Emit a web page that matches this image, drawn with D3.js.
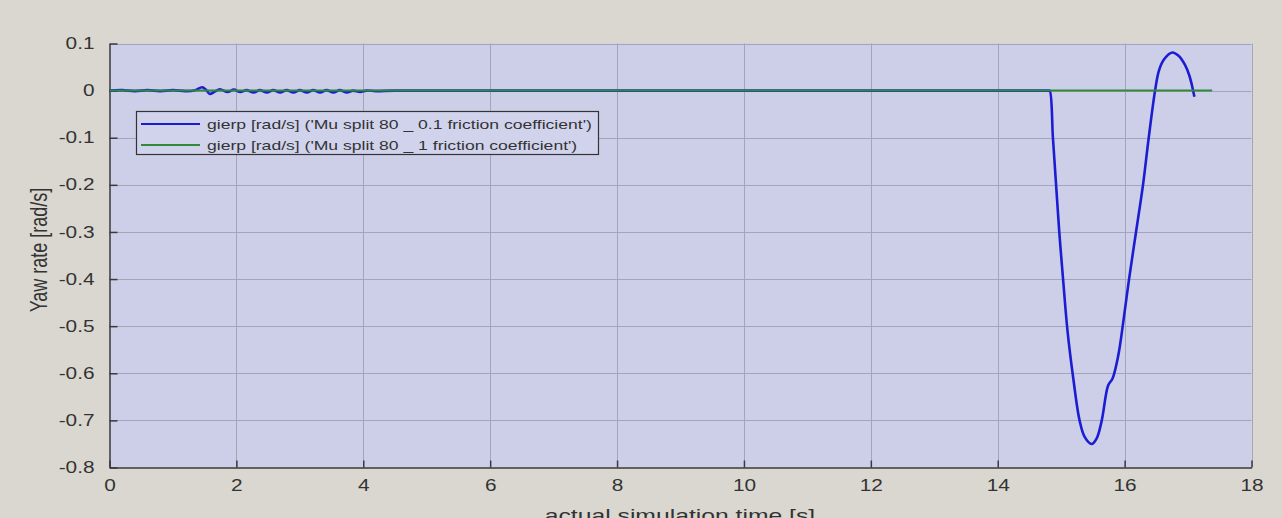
<!DOCTYPE html>
<html>
<head>
<meta charset="utf-8">
<script src="https://cdn.jsdelivr.net/npm/d3@7"></script>
<style>
  html, body { margin: 0; padding: 0; background: #dad7d0; }
  svg { display: block; }
  text { font-family: "Liberation Sans", Arial, sans-serif; fill: #333; }
</style>
</head>
<body>
<svg id="chart" width="1282" height="518"></svg>
<script>
// Yaw rate over simulation time, two friction cases
const xTicks = [0, 2, 4, 6, 8, 10, 12, 14, 16, 18];
const yTicks = [0.1, 0, -0.1, -0.2, -0.3, -0.4, -0.5, -0.6, -0.7, -0.8];
const yTickLabels = ["0.1", "0", "-0.1", "-0.2", "-0.3", "-0.4", "-0.5", "-0.6", "-0.7", "-0.8"];

// low friction (0.1) run: time [s]
const lowMuTime = [
  0, 0.2, 0.4, 0.6, 0.8, 1.0, 1.2, 1.35, 1.46, 1.52, 1.58, 1.66, 1.74, 1.86, 1.96,
  2.06, 2.16, 2.27, 2.37, 2.48, 2.58, 2.69, 2.79, 2.9, 3.0, 3.11, 3.21, 3.32, 3.42,
  3.53, 3.63, 3.74, 3.84, 3.95, 4.05, 4.2, 4.5, 6, 8, 10, 12, 14, 14.8,
  14.82, 14.87, 14.92, 14.97, 15.03, 15.1, 15.19, 15.29, 15.37, 15.48, 15.56, 15.64,
  15.74, 15.81, 15.9, 15.97, 16.07, 16.18, 16.29, 16.38, 16.48, 16.54, 16.62, 16.75,
  16.85, 16.95, 17.02, 17.06, 17.1
];
// low friction (0.1) run: yaw rate [rad/s]
const lowMuYaw = [
  0, 0.001, -0.001, 0.001, -0.001, 0.001, -0.001, 0.001, 0.007, 0.002, -0.007, -0.002, 0.003, -0.003, 0.002,
  -0.003, 0.001, -0.004, 0.001, -0.004, 0.001, -0.004, 0.001, -0.004, 0.001, -0.004, 0.001, -0.004, 0.001,
  -0.004, 0.001, -0.004, 0.0, -0.003, 0.0, -0.001, 0, 0, 0, 0, 0, 0, 0,
  0, -0.1, -0.2, -0.3, -0.4, -0.51, -0.61, -0.7, -0.735, -0.75, -0.738, -0.70,
  -0.626, -0.611, -0.562, -0.5, -0.4, -0.3, -0.2, -0.1, 0, 0.042, 0.066, 0.081,
  0.074, 0.055, 0.032, 0.012, -0.013
];

// high friction (1) run
const highMuTime = [0, 4, 8, 12, 16, 17.38];
const highMuYaw = [0, 0, 0, 0, 0, 0];

const seriesNames = [
  "gierp [rad/s] ('Mu split 80 _ 0.1 friction coefficient')",
  "gierp [rad/s] ('Mu split 80 _ 1 friction coefficient')"
];
const seriesColors = ["#1c1cd2", "#2f8a3c"];
const xLabel = "actual simulation time [s]";
const yLabel = "Yaw rate [rad/s]";

const svg = d3.select("#chart");
const plot = { left: 109.5, right: 1251.5, top: 43.5, bottom: 467.5 };
const stretch = 1.3; // horizontal widening of all text

const x = d3.scaleLinear().domain([0, 18]).range([plot.left, plot.right]);
const y = d3.scaleLinear().domain([-0.8, 0.1]).range([plot.bottom, plot.top]);

// plot background
svg.append("rect")
  .attr("x", plot.left).attr("y", plot.top)
  .attr("width", plot.right - plot.left).attr("height", plot.bottom - plot.top)
  .attr("fill", "#cdcfe9");

// grid
const grid = svg.append("g").attr("stroke", "#a3a5bd").attr("stroke-width", 1);
grid.selectAll("line.gx").data(xTicks.slice(1)).join("line")
  .attr("x1", d => Math.round(x(d)) + 0.5).attr("x2", d => Math.round(x(d)) + 0.5)
  .attr("y1", plot.top).attr("y2", plot.bottom);
grid.selectAll("line.gy").data(yTicks.slice(0, -1)).join("line")
  .attr("y1", d => Math.round(y(d)) + 0.5).attr("y2", d => Math.round(y(d)) + 0.5)
  .attr("x1", plot.left).attr("x2", plot.right);

// axes
const xAxis = d3.axisBottom(x).tickValues(xTicks).tickSizeInner(-7).tickSizeOuter(0).tickPadding(12);
const yAxis = d3.axisLeft(y).tickValues(yTicks).tickSizeInner(-8).tickSizeOuter(0).tickPadding(15)
  .tickFormat((d, i) => yTickLabels[i]);

const gx = svg.append("g").attr("transform", `translate(0,${plot.bottom})`).call(xAxis);
const gy = svg.append("g").attr("transform", `translate(${plot.left},0)`).call(yAxis);
[gx, gy].forEach(g => {
  g.select(".domain").attr("stroke", "#3a3a3a").attr("stroke-width", 1.5);
  g.selectAll(".tick line").attr("stroke", "#3a3a3a").attr("stroke-width", 1.5);
  g.selectAll(".tick text").attr("font-size", 16).attr("fill", "#3c3c3c")
    .attr("font-family", "Liberation Sans, Arial, sans-serif");
});
gx.selectAll(".tick text").attr("dy", "0.71em");

// lines
const line = d3.line().x(d => x(d[0])).y(d => y(d[1])).curve(d3.curveCatmullRom.alpha(0.5));
const lowMu = lowMuTime.map((t, i) => [t, lowMuYaw[i]]);
const highMu = highMuTime.map((t, i) => [t, highMuYaw[i]]);

svg.append("path").datum(lowMu).attr("d", line)
  .attr("fill", "none").attr("stroke", seriesColors[0]).attr("stroke-width", 2.6)
  .attr("stroke-linejoin", "round");
svg.append("path").datum(highMu).attr("d", line)
  .attr("fill", "none").attr("stroke", seriesColors[1]).attr("stroke-width", 2);

// legend
const leg = svg.append("g");
leg.append("rect").attr("x", 136.5).attr("y", 111.5).attr("width", 462).attr("height", 43)
  .attr("fill", "#d1d3ec").attr("stroke", "#333").attr("stroke-width", 1.2);
seriesNames.forEach((name, i) => {
  const yy = 124 + i * 21;
  leg.append("line").attr("x1", 141).attr("x2", 200).attr("y1", yy).attr("y2", yy)
    .attr("stroke", seriesColors[i]).attr("stroke-width", i === 0 ? 2 : 1.8);
  leg.append("text").attr("x", 207).attr("y", yy).attr("dy", "0.35em")
    .attr("font-size", 13.5).attr("fill", "#222").attr("class", "legend-label").text(name);
});

// axis titles
svg.append("text").attr("x", 680).attr("y", 522).attr("text-anchor", "middle")
  .attr("font-size", 19).attr("fill", "#333").attr("class", "stretch").text(xLabel);
svg.append("text")
  .attr("transform", "translate(47,250) rotate(-90) scale(1,1.3)")
  .attr("text-anchor", "middle").attr("font-size", 18).attr("fill", "#333").text(yLabel);

// widen horizontal text
svg.selectAll(".tick text, text.legend-label, text.stretch").each(function () {
  const w = this.getComputedTextLength();
  d3.select(this).attr("textLength", w * stretch).attr("lengthAdjust", "spacingAndGlyphs");
});
</script>
</body>
</html>
